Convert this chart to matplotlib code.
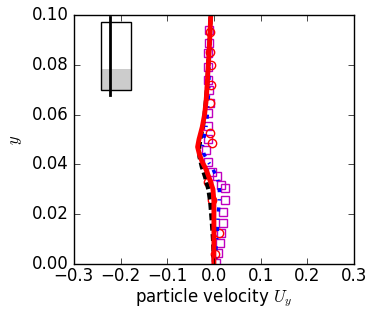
import numpy as np
import matplotlib
matplotlib.use('Agg')
import matplotlib.pyplot as plt
from matplotlib.patches import Rectangle

plt.style.use('classic')
plt.rcParams['font.family'] = ['DejaVu Sans']
plt.rcParams['mathtext.fontset'] = 'cm'

# simulation profiles (y, Uy)
y_red = [0.099, 0.09, 0.08, 0.07, 0.065, 0.06, 0.055, 0.05, 0.047, 0.044,
         0.041, 0.038, 0.034, 0.030, 0.025, 0.02, 0.01, 0.0]
u_red = [-0.007, -0.009, -0.012, -0.015, -0.017, -0.020, -0.025, -0.032, -0.035, -0.031,
         -0.025, -0.017, -0.009, -0.002, 0.0, 0.0, 0.0, 0.0]

y_blue = [0.099, 0.09, 0.08, 0.07, 0.06, 0.055, 0.05, 0.047, 0.044, 0.041,
          0.038, 0.035, 0.032, 0.028, 0.024, 0.02, 0.015, 0.01, 0.005, 0.0]
u_blue = [-0.008, -0.009, -0.010, -0.011, -0.014, -0.017, -0.022, -0.025, -0.021, -0.012,
          -0.002, 0.006, 0.011, 0.012, 0.011, 0.009, 0.008, 0.006, 0.004, 0.003]

y_black = [0.099, 0.09, 0.08, 0.07, 0.06, 0.055, 0.05, 0.046, 0.043, 0.039,
           0.035, 0.030, 0.025, 0.018, 0.01, 0.0]
u_black = [-0.007, -0.009, -0.012, -0.015, -0.020, -0.024, -0.029, -0.032, -0.031, -0.026,
           -0.019, -0.012, -0.008, -0.005, -0.002, 0.0]

# experimental points
y_sq = [0.094, 0.0888, 0.0847, 0.0791, 0.0739, 0.0699, 0.0648, 0.0605, 0.0554, 0.050,
        0.0458, 0.0411, 0.0371, 0.0353, 0.0317, 0.0305, 0.0257, 0.021, 0.0166, 0.0123,
        0.0083, 0.0043, 0.0003]
u_sq = [-0.010, -0.011, -0.012, -0.012, -0.012, -0.011, -0.009, -0.012, -0.012, -0.0135,
        -0.016, -0.012, -0.005, 0.006, 0.016, 0.024, 0.024, 0.020, 0.020, 0.016,
        0.013, 0.008, 0.004]

y_circ = [0.093, 0.085, 0.080, 0.072, 0.0645, 0.0526, 0.0486, 0.033, 0.0257, 0.0124, 0.004]
u_circ = [-0.008, -0.008, -0.007, -0.006, -0.009, -0.009, -0.005, -0.013, -0.005, 0.011, 0.002]

fig = plt.figure(figsize=(3.73, 3.11), dpi=100, facecolor='white')
ax = fig.add_axes([0.198, 0.151, 0.751, 0.801])

ax.plot(u_sq, y_sq, 's', mfc='none', mec='m', ms=6, mew=1)
ax.plot(u_circ, y_circ, 'o', mfc='none', mec='r', ms=6, mew=1)
ax.plot(u_black, y_black, 'k--', lw=3, dashes=(5, 2.5))
ax.plot(u_blue, y_blue, 'b-.', lw=2.5)
ax.plot(u_red, y_red, 'r-', lw=3.5)

# channel sketch
ax.add_patch(Rectangle((-0.242, 0.0699), 0.064, 0.0084, facecolor='0.8', edgecolor='none'))
ax.add_patch(Rectangle((-0.242, 0.0699), 0.064, 0.0273, facecolor='none', edgecolor='k', lw=1))
ax.plot([-0.2236, -0.2236], [0.0679, 0.0992], 'k-', lw=2)

ax.set_xlim(-0.3, 0.3)
ax.set_ylim(0, 0.1)
ax.set_xticks([-0.3, -0.2, -0.1, 0.0, 0.1, 0.2, 0.3])
ax.set_yticks([0.0, 0.02, 0.04, 0.06, 0.08, 0.10])
ax.set_yticklabels(['0.00', '0.02', '0.04', '0.06', '0.08', '0.10'])
ax.tick_params(direction='in', length=4, labelsize=12)
ax.tick_params(axis='x', pad=2)
ax.set_xlabel(r'particle velocity $U_y$', fontsize=12, labelpad=1)
ax.set_ylabel(r'$y$', fontsize=12)

fig.savefig('out.png', dpi=100, facecolor='white')
